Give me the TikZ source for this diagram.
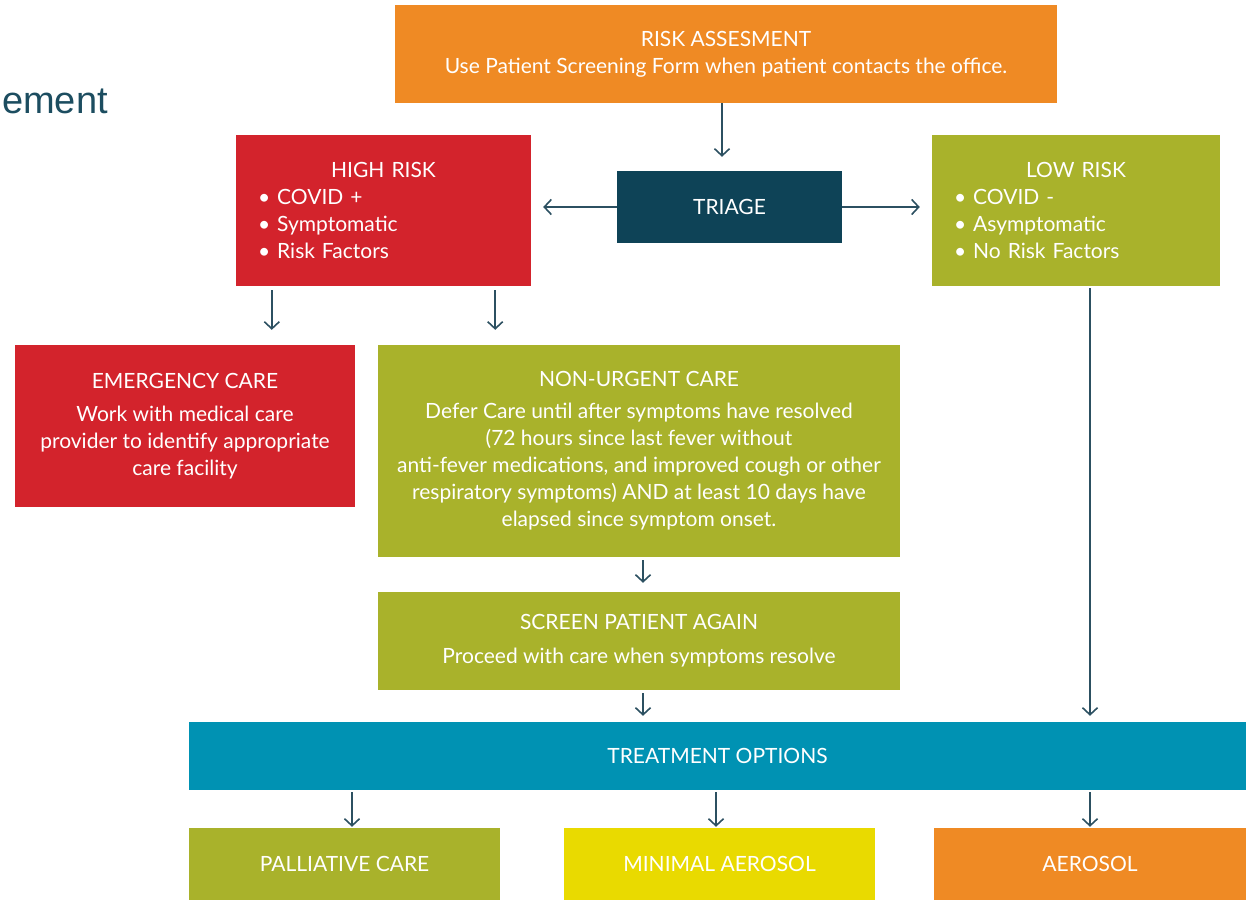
\documentclass[tikz,border=0pt]{standalone}
\usepackage{fontspec}
\setmainfont{Lato}
\newfontfamily\headfont{Liberation Sans}
\usetikzlibrary{positioning}
\usetikzlibrary{arrows.meta}

\definecolor{riskorange}{HTML}{EF8A24}
\definecolor{riskred}{HTML}{D3232C}
\definecolor{careolive}{HTML}{A9B22B}
\definecolor{triageteal}{HTML}{0E4357}
\definecolor{treatblue}{HTML}{0092B3}
\definecolor{aeroyellow}{HTML}{E9DA00}
\definecolor{arrowteal}{HTML}{2C5061}
\definecolor{headteal}{HTML}{1C4D60}

\tikzset{
  box/.style={rectangle, inner sep=0pt, text=white, align=center,
    font=\fontsize{21}{27}\selectfont},
  listbox/.style={box, align=left, inner xsep=22pt},
  arr/.style={draw=arrowteal, line width=1.6pt,
    -{Straight Barb[length=7pt,width=15pt]}},
}

\begin{document}
\begin{tikzpicture}[x=1pt,y=-1pt]
  \useasboundingbox (0,0) rectangle (1246,900);

  % cut-off heading at the left
  \node[anchor=base west, inner sep=0pt, text=headteal,
        font=\headfont\fontsize{38}{38}\selectfont] (heading) at (2,113) {ement};

  % first row
  \node[box, fill=riskorange, minimum width=662pt, minimum height=98pt] (risk) at (726,54)
    {RISK ASSESMENT\\Use Patient Screening Form when patient contacts the office.};
  \node[box, fill=triageteal, minimum width=225pt, minimum height=72pt] (triage) at (729.5,207)
    {TRIAGE};
  \node[listbox, fill=riskred, text width=251pt, minimum height=151pt] (high) at (383.5,210.5)
    {\makebox[\linewidth][c]{HIGH RISK}\\ • COVID +\\ • Symptomatic\\ • Risk Factors};
  \node[listbox, fill=careolive, text width=244pt, minimum height=151pt] (low) at (1076,210.5)
    {\makebox[\linewidth][c]{LOW RISK}\\ • COVID -\\ • Asymptomatic\\ • No Risk Factors};

  % care boxes
  \node[box, fill=riskred, minimum width=340pt, minimum height=162pt] (emerg) at (185,426)
    {EMERGENCY CARE\\[6pt]Work with medical care\\provider to identify appropriate\\care facility};
  \node[box, fill=careolive, minimum width=522pt, minimum height=212pt] (nonurg) at (639,451)
    {NON-URGENT CARE\\[5pt]Defer Care until after symptoms have resolved\\(72 hours since last fever without\\
     anti-fever medications, and improved cough or other\\respiratory symptoms) AND at least 10 days have\\
     elapsed since symptom onset.};
  \node[box, fill=careolive, minimum width=522pt, minimum height=98pt] (screen) at (639,641)
    {SCREEN PATIENT AGAIN\\[7pt]Proceed with care when symptoms resolve};

  % treatment row
  \node[box, fill=treatblue, minimum width=1057pt, minimum height=68pt] (treat) at (717.5,756)
    {TREATMENT OPTIONS};
  \node[box, fill=careolive, minimum width=311pt, minimum height=72pt] (pall) at (344.5,864)
    {PALLIATIVE CARE};
  \node[box, fill=aeroyellow, minimum width=311pt, minimum height=72pt] (minaer) at (719.5,864)
    {MINIMAL AEROSOL};
  \node[box, fill=riskorange, minimum width=312pt, minimum height=72pt] (aer) at (1090,864)
    {AEROSOL};

  % arrows
  \draw[arr, shorten >=14pt] (risk.south -| 722,0) -- (triage.north -| 722,0);
  \draw[arr, shorten >=12pt] (triage.west) -- (high.east |- triage.west);
  \draw[arr, shorten >=12pt] (triage.east) -- (low.west |- triage.east);
  \draw[arr, shorten <=4pt, shorten >=15pt] ([xshift=36pt]high.south west) -- ([xshift=36pt]high.south west |- emerg.north);
  \draw[arr, shorten <=4pt, shorten >=15pt] ([xshift=-36pt]high.south east) -- ([xshift=-36pt]high.south east |- nonurg.north);
  \draw[arr, shorten <=3pt, shorten >=9pt] ([xshift=4pt]nonurg.south) -- ([xshift=4pt]screen.north);
  \draw[arr, shorten <=3pt, shorten >=6pt] ([xshift=4pt]screen.south) -- ([xshift=4pt]screen.south |- treat.north);
  \draw[arr, shorten <=2pt, shorten >=6pt] ([xshift=14pt]low.south) -- ([xshift=14pt]low.south |- treat.north);
  \draw[arr, shorten <=2pt, shorten >=1pt] (treat.south -| 352,0) -- (pall.north -| 352,0);
  \draw[arr, shorten <=2pt, shorten >=1pt] (treat.south -| 716,0) -- (minaer.north -| 716,0);
  \draw[arr, shorten <=2pt, shorten >=1pt] (treat.south -| aer.north) -- (aer.north);
\end{tikzpicture}
\end{document}
